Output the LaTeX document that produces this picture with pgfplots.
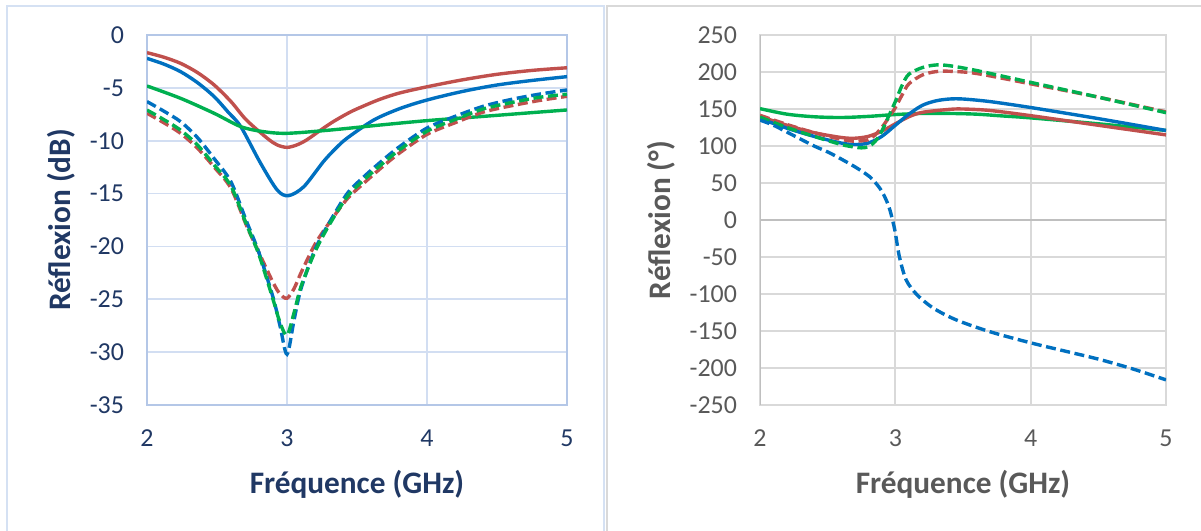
\documentclass[border=0pt]{standalone}
\usepackage{pgfplots}
\pgfplotsset{compat=1.18}
\usepackage{fontspec}
\setmainfont{Carlito}
\definecolor{cblue}{HTML}{0070C0}
\definecolor{cred}{HTML}{C0504D}
\definecolor{cgreen}{HTML}{00B050}
\definecolor{ltext}{HTML}{203864}
\definecolor{rtext}{HTML}{595959}
\definecolor{lgrid}{HTML}{D2DEF2}
\definecolor{laxis}{HTML}{B4C7E7}
\definecolor{lframe}{HTML}{D5E1F3}
\definecolor{rgrid}{HTML}{D9D9D9}
\definecolor{raxis}{HTML}{BFBFBF}
\definecolor{rframe}{HTML}{D9D9D9}
\begin{document}
\begin{tikzpicture}
\useasboundingbox (0,0) rectangle (600.5bp,265.5bp);
\draw[color=lframe, line width=1.2bp] (3.5bp,-5bp) rectangle (302bp,262.5bp);
\draw[color=rframe, line width=1.2bp] (303.5bp,-5bp) rectangle (615bp,262.5bp);
\pgfplotsset{
  sol/.style={line width=1.7bp, smooth, no markers},
  das/.style={line width=1.7bp, smooth, no markers, dash pattern=on 5bp off 2.3bp},
  commonax/.style={anchor=south west, scale only axis, height=185bp, xmin=2, xmax=5,
    xtick={2,3,4,5}, grid=major, major tick length=0,
    /pgf/number format/assume math mode=true,
    tick label style={font=\fontsize{13}{15}\selectfont},
    xticklabel style={yshift=-9bp}, yticklabel style={xshift=-8bp},
    label style={font=\fontsize{15.7}{18}\selectfont\bfseries},
    xlabel={Fréquence (GHz)},
    xlabel style={at={(axis description cs:0.5,-0.2135)}, anchor=center}}
}
% ---------------- left: magnitude ----------------
\begin{axis}[commonax, at={(73.5bp,63bp)}, width=210bp,
  ymin=-35, ymax=0, ytick={-35,-30,...,0},
  major grid style={color=lgrid, line width=0.8bp},
  axis line style={color=laxis, line width=1bp},
  tick label style={color=ltext}, label style={color=ltext},
  ylabel={Réflexion (dB)},
  ylabel style={at={(axis description cs:-0.205,0.5)}, anchor=center}]
% red solid
\addplot[sol, cred] coordinates {(2,-1.67)(2.12,-2.1)(2.24,-2.68)(2.36,-3.55)(2.48,-4.73)(2.6,-6.3)(2.71,-8.04)(2.86,-9.78)(2.93,-10.4)(3.0,-10.63)(3.07,-10.4)(3.14,-9.93)(3.24,-9.0)(3.33,-8.2)(3.45,-7.3)(3.55,-6.7)(3.66,-6.1)(3.8,-5.5)(4.0,-4.9)(4.25,-4.25)(4.5,-3.72)(4.75,-3.35)(5,-3.1)};
% blue solid
\addplot[sol, cblue] coordinates {(2,-2.21)(2.12,-2.75)(2.24,-3.47)(2.36,-4.5)(2.48,-5.83)(2.58,-7.3)(2.67,-8.67)(2.81,-12.1)(2.93,-14.66)(3.01,-15.2)(3.12,-14.35)(3.26,-11.98)(3.35,-10.7)(3.43,-9.75)(3.62,-8.04)(3.81,-6.94)(4.0,-6.15)(4.25,-5.35)(4.5,-4.73)(4.75,-4.3)(5,-3.94)};
% green solid
\addplot[sol, cgreen] coordinates {(2,-4.82)(2.24,-5.99)(2.48,-7.41)(2.67,-8.67)(2.83,-9.14)(3.0,-9.3)(3.31,-8.99)(3.67,-8.51)(4.0,-8.1)(4.38,-7.72)(5,-7.09)};
% red dashed
\addplot[das, cred] coordinates {(2.0,-7.4)(2.12,-8.3)(2.24,-9.3)(2.36,-10.7)(2.48,-12.5)(2.6,-14.5)(2.71,-18.0)(2.8,-20.6)(2.9,-23.4)(2.95,-24.5)(3.0,-24.9)(3.05,-24.0)(3.1,-22.5)(3.2,-19.8)(3.3,-17.8)(3.43,-15.5)(3.55,-14.0)(3.67,-12.6)(3.8,-11.2)(4.0,-9.4)(4.2,-8.3)(4.4,-7.3)(4.6,-6.7)(4.8,-6.2)(5.0,-5.8)};
% blue dashed
\addplot[das, cblue] coordinates {(2.0,-6.3)(2.12,-7.2)(2.24,-8.2)(2.36,-9.7)(2.48,-11.7)(2.6,-13.9)(2.71,-17.6)(2.8,-20.6)(2.9,-24.8)(2.95,-27.5)(3.0,-30.2)(3.05,-27.0)(3.1,-24.0)(3.2,-20.3)(3.3,-17.8)(3.43,-15.0)(3.55,-13.4)(3.67,-12.0)(3.8,-10.6)(4.0,-8.8)(4.2,-7.7)(4.4,-6.75)(4.6,-6.1)(4.8,-5.6)(5.0,-5.2)};
% green dashed
\addplot[das, cgreen] coordinates {(2.0,-7.1)(2.12,-8.0)(2.24,-9.0)(2.36,-10.4)(2.48,-12.3)(2.6,-14.3)(2.71,-17.9)(2.8,-20.8)(2.9,-25.0)(2.95,-27.2)(3.0,-28.4)(3.05,-26.3)(3.1,-23.8)(3.2,-20.5)(3.3,-18.0)(3.43,-15.3)(3.55,-13.7)(3.67,-12.3)(3.8,-10.9)(4.0,-9.1)(4.2,-8.0)(4.4,-7.0)(4.6,-6.4)(4.8,-5.9)(5.0,-5.6)};
\end{axis}
% ---------------- right: phase ----------------
\begin{axis}[commonax, at={(380bp,63bp)}, width=203bp,
  ymin=-250, ymax=250, ytick={-250,-200,...,250},
  major grid style={color=rgrid, line width=1bp},
  axis line style={color=rgrid, line width=1bp},
  tick label style={color=rtext}, label style={color=rtext},
  ylabel={Réflexion (°)},
  ylabel style={at={(axis description cs:-0.244,0.5)}, anchor=center},
  extra y ticks={0}, extra y tick labels={},
  extra y tick style={major grid style={color=raxis, line width=1.1bp}}]
\draw[color=raxis, line width=1.2bp] (axis cs:2,-250) -- (axis cs:2,250);
% green solid
\addplot[sol, cgreen] coordinates {(2.0,150.5)(2.2,143)(2.4,139.5)(2.6,138.5)(2.8,140)(3.0,142.5)(3.2,144)(3.4,144)(3.6,143)(3.8,140.5)(4.0,138)(4.5,130)(5.0,121)};
% red solid
\addplot[sol, cred] coordinates {(2.0,140)(2.2,128)(2.4,118)(2.6,111.5)(2.7,110.5)(2.8,113)(2.9,120)(3.0,130)(3.1,139.5)(3.2,145.5)(3.4,149.5)(3.5,150)(3.7,148)(4.0,141)(4.5,128)(5.0,115)};
% blue solid
\addplot[sol, cblue] coordinates {(2.0,137)(2.2,124)(2.4,113)(2.6,104)(2.7,102)(2.8,104)(2.9,113)(3.0,128)(3.1,143)(3.2,155)(3.3,161)(3.4,163.5)(3.5,163.5)(3.7,160)(4.0,152)(4.5,137)(5.0,121)};
% red dashed
\addplot[das, cred] coordinates {(2.0,141.5)(2.2,129)(2.4,118)(2.6,109)(2.7,106.5)(2.8,108.5)(2.85,115)(2.9,125)(2.95,138)(3.0,152)(3.05,169)(3.1,184)(3.2,196)(3.3,200.5)(3.4,201)(3.6,198)(4.0,184)(4.5,166)(5.0,146)};
% green dashed
\addplot[das, cgreen] coordinates {(2.0,139)(2.2,125)(2.4,113)(2.6,102)(2.7,98.5)(2.75,97.5)(2.8,99)(2.85,106)(2.9,120)(2.95,140)(3.0,160)(3.05,182)(3.1,197)(3.2,206)(3.3,209.5)(3.4,208.5)(3.6,202)(4.0,186)(4.5,166)(5.0,145)};
% blue dashed
\addplot[das, cblue] coordinates {(2.0,135)(2.1,128)(2.25,114)(2.4,100)(2.5,92)(2.59,83.4)(2.7,72)(2.81,58.5)(2.886,42.8)(2.93,28)(2.96,13.5)(2.996,-13.5)(3.03,-49.6)(3.08,-81)(3.16,-101)(3.28,-119)(3.45,-135)(3.7,-151)(4.0,-166)(4.25,-177)(4.5,-188)(4.75,-201)(5.0,-216)};
\end{axis}
\end{tikzpicture}
\end{document}
